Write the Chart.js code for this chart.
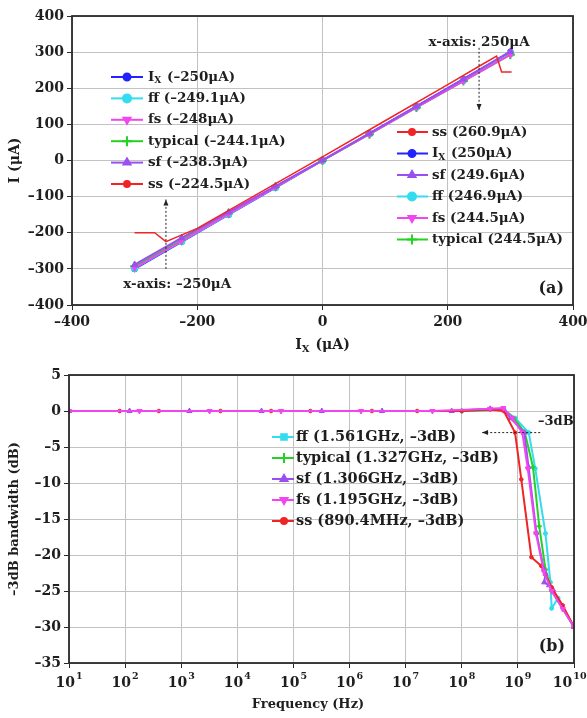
<!DOCTYPE html>
<html>
<head>
<meta charset="utf-8">
<script src="https://cdn.jsdelivr.net/npm/chart.js@4.4.0/dist/chart.umd.min.js"></script>
<style>
html,body{margin:0;padding:0;background:#fff;}
#wrapA{position:absolute;left:0;top:0;width:587px;height:360px;}
#wrapB{position:absolute;left:0;top:360px;width:587px;height:358px;}
</style>
</head>
<body>
<div id="wrapA"><canvas id="chartA"></canvas></div>
<div id="wrapB"><canvas id="chartB"></canvas></div>
<script>
const FONT = "'DejaVu Serif', 'Liberation Serif', serif";
const C = { ix:'#2323ff', ff:'#33dcee', fs:'#f046f0', typical:'#22d322', sf:'#9b4ff0', ss:'#f02424',
            grid:'#c2c2c2', frame:'#2a2a2a', text:'#1e1e1e' };
Chart.defaults.font.family = FONT;
Chart.defaults.font.weight = 'bold';
Chart.defaults.color = C.text;

// ── (a) I vs Ix ─────────────────────────────────────────────
const ixPts    = [-300, -225, -150, -75, 0, 75, 150, 225, 300];
const iIx      = [-300, -225, -150, -75, 0, 75, 150, 225, 300];
const iFF      = [-298, -224, -149, -74, 0, 74, 148, 222, 296];
const iFS      = [-297, -223, -148, -74, 0, 73, 147, 220, 293];
const iTypical = [-293, -220, -146, -73, 0, 73, 147, 220, 293];
const iSF      = [-288, -214, -143, -71, 1, 75, 150, 225, 302];
const ssIx     = [-300, -268, -250, -200, -100, 0, 100, 200, 250, 278, 286, 302];
const iSS      = [-200, -200, -224.5, -188, -89, 10, 110, 210, 260.9, 289, 245, 245];

const legA1Keys = ['ix','ff','fs','typical','sf','ss'];
const legA1Text = ['I_X (–250μA)','ff (–249.1μA)','fs (–248μA)','typical (–244.1μA)','sf (–238.3μA)','ss (–224.5μA)'];
const legA2Keys = ['ss','ix','sf','ff','fs','typical'];
const legA2Text = ['ss (260.9μA)','I_X (250μA)','sf (249.6μA)','ff (246.9μA)','fs (244.5μA)','typical (244.5μA)'];

// ── (b) bandwidth vs frequency ──────────────────────────────
const fSS  = [10, 80, 400, 5e3, 4e4, 2e5, 2.5e6, 1.6e7, 1e8, 3.2e8, 5.6e8, 8.9e8, 1.15e9, 1.74e9, 2.6e9, 4e9, 6.3e9, 1e10];
const dbSS = [0, 0, 0, 0, 0, 0, 0, 0, 0, 0.2, 0, -3, -9.5, -20.3, -21.5, -24.5, -27, -30];
const fSF  = [10, 120, 1.4e3, 2.7e4, 3.2e5, 3.8e6, 6.6e7, 3.2e8, 5.6e8, 7.4e8, 1.3e9, 1.55e9, 2.14e9, 2.9e9, 3.1e9, 2.95e9, 3.6e9, 4.2e9, 1e10];
const dbSF = [0, 0, 0, 0, 0, 0, 0, 0.3, 0.2, -1, -3, -7.8, -16.9, -22, -22.6, -23.8, -24.2, -24.8, -30];
const fFS  = [10, 180, 3.2e3, 6e4, 1.6e6, 3e7, 3.2e8, 5.5e8, 8e8, 1.2e9, 1.5e9, 2.1e9, 2.9e9, 4e9, 6.3e9, 1e10];
const dbFS = [0, 0, 0, 0, 0, 0, 0.3, 0.4, -1, -3, -8, -17, -22.3, -25, -27.5, -30];
const fTY  = [10, 1e8, 5.6e8, 8.5e8, 1.33e9, 1.86e9, 2.4e9, 3.1e9, 4e9, 1e10];
const dbTY = [0, 0, 0.2, -1, -3, -7.8, -16, -22, -25, -30];
const fFF  = [10, 1e8, 5.6e8, 9e8, 1.56e9, 2.04e9, 3.1e9, 3.8e9, 4e9, 5.2e9, 1e10];
const dbFF = [0, 0, 0.2, -1, -3, -8, -17, -23.8, -27.4, -26, -30];

const decades = [1e1, 1e2, 1e3, 1e4, 1e5, 1e6, 1e7, 1e8, 1e9, 1e10];
const decExp  = ['1','2','3','4','5','6','7','8','9','10'];

const legBKeys = ['ff','typical','sf','fs','ss'];
const legBText = ['ff (1.561GHz, –3dB)','typical (1.327GHz, –3dB)','sf (1.306GHz, –3dB)','fs (1.195GHz, –3dB)','ss (890.4MHz, –3dB)'];

const S = {
  ix:      { color:C.ix,      style:'circle',   rot:0,   r:3 },
  ff:      { color:C.ff,      style:'circle',   rot:0,   r:3.5 },
  fs:      { color:C.fs,      style:'triangle', rot:180, r:3.5 },
  typical: { color:C.typical, style:'cross',    rot:0,   r:4.5 },
  sf:      { color:C.sf,      style:'triangle', rot:0,   r:3.5 },
  ss:      { color:C.ss,      style:'circle',   rot:0,   r:2.5 }
};

function ds(key, xs, ys, order, extra={}) {
  const s = S[key];
  return Object.assign({ label:key, data:xs.map((x,i)=>({x, y:ys[i]})), showLine:true,
    borderColor:s.color, backgroundColor:s.color, borderWidth:2,
    pointStyle:s.style, pointRotation:s.rot, pointRadius:s.r, pointBorderWidth:s.style==='cross'?2:1,
    order }, extra);
}

function fnt(size) { return `bold ${size}px ${FONT}`; }

function richWidth(ctx, text, size) {
  if (!text.startsWith('I_X')) { ctx.font = fnt(size); return ctx.measureText(text).width; }
  ctx.font = fnt(size); let w = ctx.measureText('I').width + ctx.measureText(text.slice(3)).width;
  ctx.font = fnt(Math.round(size*0.7)); w += ctx.measureText('X').width + 1;
  return w;
}
function drawRich(ctx, text, x, y, size) {
  ctx.textAlign = 'left'; ctx.textBaseline = 'middle';
  if (!text.startsWith('I_X')) { ctx.font = fnt(size); ctx.fillText(text, x, y); return; }
  ctx.font = fnt(size); ctx.fillText('I', x, y); x += ctx.measureText('I').width;
  ctx.font = fnt(Math.round(size*0.7)); ctx.fillText('X', x, y + size*0.28); x += ctx.measureText('X').width + 1;
  ctx.font = fnt(size); ctx.fillText(text.slice(3), x, y);
}

function drawLegend(ctx, keys, texts, o) {
  ctx.save();
  keys.forEach((k, i) => {
    const s = S[k], y = o.y0 + i*o.dy;
    const st = (o.styles && o.styles[k]) || s.style;
    ctx.strokeStyle = s.color; ctx.fillStyle = s.color; ctx.lineWidth = 2;
    ctx.beginPath(); ctx.moveTo(o.x0, y); ctx.lineTo(o.x1, y); ctx.stroke();
    Chart.helpers.drawPoint(ctx, { pointStyle:st, rotation:s.rot, radius:s.r+0.5, borderWidth:st==='cross'?2:1 }, o.mx, y);
    ctx.fillStyle = C.text;
    drawRich(ctx, texts[i], o.tx, y, o.size);
  });
  ctx.restore();
}

function dottedArrow(ctx, x1, y1, x2, y2) {
  ctx.save();
  ctx.strokeStyle = '#222'; ctx.fillStyle = '#222'; ctx.lineWidth = 1;
  ctx.setLineDash([2, 2]);
  ctx.beginPath(); ctx.moveTo(x1, y1); ctx.lineTo(x2, y2); ctx.stroke();
  ctx.setLineDash([]);
  const a = Math.atan2(y2 - y1, x2 - x1);
  ctx.beginPath();
  ctx.moveTo(x2, y2);
  ctx.lineTo(x2 - 6*Math.cos(a) + 2.5*Math.sin(a), y2 - 6*Math.sin(a) - 2.5*Math.cos(a));
  ctx.lineTo(x2 - 6*Math.cos(a) - 2.5*Math.sin(a), y2 - 6*Math.sin(a) + 2.5*Math.cos(a));
  ctx.closePath(); ctx.fill();
  ctx.restore();
}

const framePlugin = {
  id:'frame',
  afterDraw(chart) {
    const { ctx, chartArea:a } = chart;
    ctx.save(); ctx.strokeStyle = C.frame; ctx.lineWidth = 1.8;
    ctx.strokeRect(a.left, a.top, a.right - a.left, a.bottom - a.top);
    ctx.restore();
  }
};

function tickMinus(v) { return v < 0 ? '–' + Math.abs(v) : String(v); }

function axisY(min, max, step, width, title, titleSize) {
  return { min, max, ticks:{ stepSize:step, font:{ size:14, weight:'bold' }, color:C.text, padding:3, callback:tickMinus },
    grid:{ color:C.grid, tickLength:5, tickColor:C.frame }, border:{ display:false },
    title:{ display:!!title, text:title, font:{ size:titleSize, weight:'bold' }, color:C.text, padding:{ top:7, bottom:0 } },
    afterFit:s => { s.width = width; } };
}

function axisX(height) {
  return s => { s.height = height; s.paddingLeft = 0; s.paddingRight = 0; };
}

// ── chart (a) ───────────────────────────────────────────────
const annA = {
  id:'annA',
  afterDraw(chart) {
    const { ctx, chartArea:a, scales:{ x, y } } = chart;
    drawLegend(ctx, legA1Keys, legA1Text, { x0:111, x1:143, mx:127, tx:148, y0:77, dy:21.4, size:13.5 });
    drawLegend(ctx, legA2Keys, legA2Text, { x0:397, x1:428, mx:412, tx:432, y0:132, dy:21.5, size:13.5 });
    dottedArrow(ctx, x.getPixelForValue(250), y.getPixelForValue(312), x.getPixelForValue(250), y.getPixelForValue(140));
    dottedArrow(ctx, x.getPixelForValue(-250), y.getPixelForValue(-300), x.getPixelForValue(-250), y.getPixelForValue(-108));
    ctx.save(); ctx.fillStyle = C.text; ctx.font = fnt(13.5); ctx.textAlign = 'center'; ctx.textBaseline = 'middle';
    ctx.fillText('x-axis: 250μA', x.getPixelForValue(250), y.getPixelForValue(328));
    ctx.fillText('x-axis: –250μA', x.getPixelForValue(-232), y.getPixelForValue(-342));
    ctx.font = fnt(16); ctx.textAlign = 'right';
    ctx.fillText('(a)', a.right - 9, a.bottom - 16);
    const t = 'I_X (μA)', w = richWidth(ctx, t, 14);
    drawRich(ctx, t, (a.left + a.right)/2 - w/2, 345, 14);
    ctx.restore();
  }
};

new Chart(document.getElementById('chartA'), {
  type:'scatter',
  data:{ datasets:[
    ds('ix', ixPts, iIx, 5),
    ds('ff', ixPts, iFF, 4),
    ds('typical', ixPts, iTypical, 3),
    ds('fs', ixPts, iFS, 2),
    ds('sf', ixPts, iSF, 1),
    ds('ss', ssIx, iSS, 0, { borderWidth:1.5, pointRadius:0 })
  ]},
  options:{
    responsive:true, maintainAspectRatio:false, animation:false,
    layout:{ padding:{ top:16, right:14, left:0, bottom:0 } },
    plugins:{ legend:{ display:false }, tooltip:{ enabled:false } },
    scales:{
      x:{ type:'linear', min:-400, max:400,
          ticks:{ stepSize:200, font:{ size:14, weight:'bold' }, color:C.text, padding:4, callback:tickMinus, maxRotation:0 },
          grid:{ color:C.grid, tickLength:5, tickColor:C.frame }, border:{ display:false },
          afterFit:axisX(55) },
      y:axisY(-400, 400, 100, 72, 'I (μA)', 14)
    }
  },
  plugins:[framePlugin, annA]
});

// ── chart (b) ───────────────────────────────────────────────
const annB = {
  id:'annB',
  afterDraw(chart) {
    const { ctx, chartArea:a, scales:{ x, y } } = chart;
    drawLegend(ctx, legBKeys, legBText, { x0:272, x1:294, mx:284, tx:296, y0:77, dy:21, size:14.5, styles:{ ff:'rect' } });
    dottedArrow(ctx, x.getPixelForValue(2.5e9), y.getPixelForValue(-3), x.getPixelForValue(2.3e8), y.getPixelForValue(-3));
    ctx.save(); ctx.fillStyle = C.text; ctx.textBaseline = 'middle';
    // decade tick labels: "10" with a raised exponent
    decades.forEach((v, i) => {
      const px = x.getPixelForValue(v);
      ctx.font = fnt(14); const w1 = ctx.measureText('10').width;
      ctx.font = fnt(9.5); const w2 = ctx.measureText(decExp[i]).width;
      const x0 = Math.min(px - (w1 + w2 + 1) / 2, chart.width - (w1 + w2 + 1) - 0.5);
      ctx.textAlign = 'left';
      ctx.font = fnt(14); ctx.fillText('10', x0, 323);
      ctx.font = fnt(9.5); ctx.fillText(decExp[i], x0 + w1 + 1, 317);
    });
    ctx.font = fnt(13); ctx.textAlign = 'left';
    ctx.fillText('–3dB', a.right - 36, y.getPixelForValue(-1.5));
    ctx.font = fnt(16); ctx.textAlign = 'right';
    ctx.fillText('(b)', a.right - 9, a.bottom - 16);
    ctx.font = fnt(13); ctx.textAlign = 'center';
    ctx.fillText('Frequency (Hz)', 308, 345);
    ctx.restore();
  }
};

new Chart(document.getElementById('chartB'), {
  type:'scatter',
  data:{ datasets:[
    ds('ff', fFF, dbFF, 4, { pointRadius:2 }),
    ds('typical', fTY, dbTY, 3, { pointRadius:2.5 }),
    ds('sf', fSF, dbSF, 2, { pointRadius:3 }),
    ds('ss', fSS, dbSS, 1, { pointRadius:1.8 }),
    ds('fs', fFS, dbFS, 0, { pointRadius:3 })
  ]},
  options:{
    responsive:true, maintainAspectRatio:false, animation:false,
    layout:{ padding:{ top:15, right:13, left:0, bottom:0 } },
    plugins:{ legend:{ display:false }, tooltip:{ enabled:false } },
    scales:{
      x:{ type:'logarithmic', min:10, max:1e10,
          afterBuildTicks:s => { s.ticks = decades.map(v => ({ value:v, major:true })); },
          ticks:{ autoSkip:false, maxRotation:0, font:{ size:14, weight:'bold' }, color:C.text, padding:4,
                  callback:() => '' },
          grid:{ color:C.grid, tickLength:5, tickColor:C.frame }, border:{ display:false },
          afterFit:axisX(55) },
      y:axisY(-35, 5, 5, 69, '–3dB bandwidth (dB)', 13)
    }
  },
  plugins:[framePlugin, annB]
});
</script>
</body>
</html>
